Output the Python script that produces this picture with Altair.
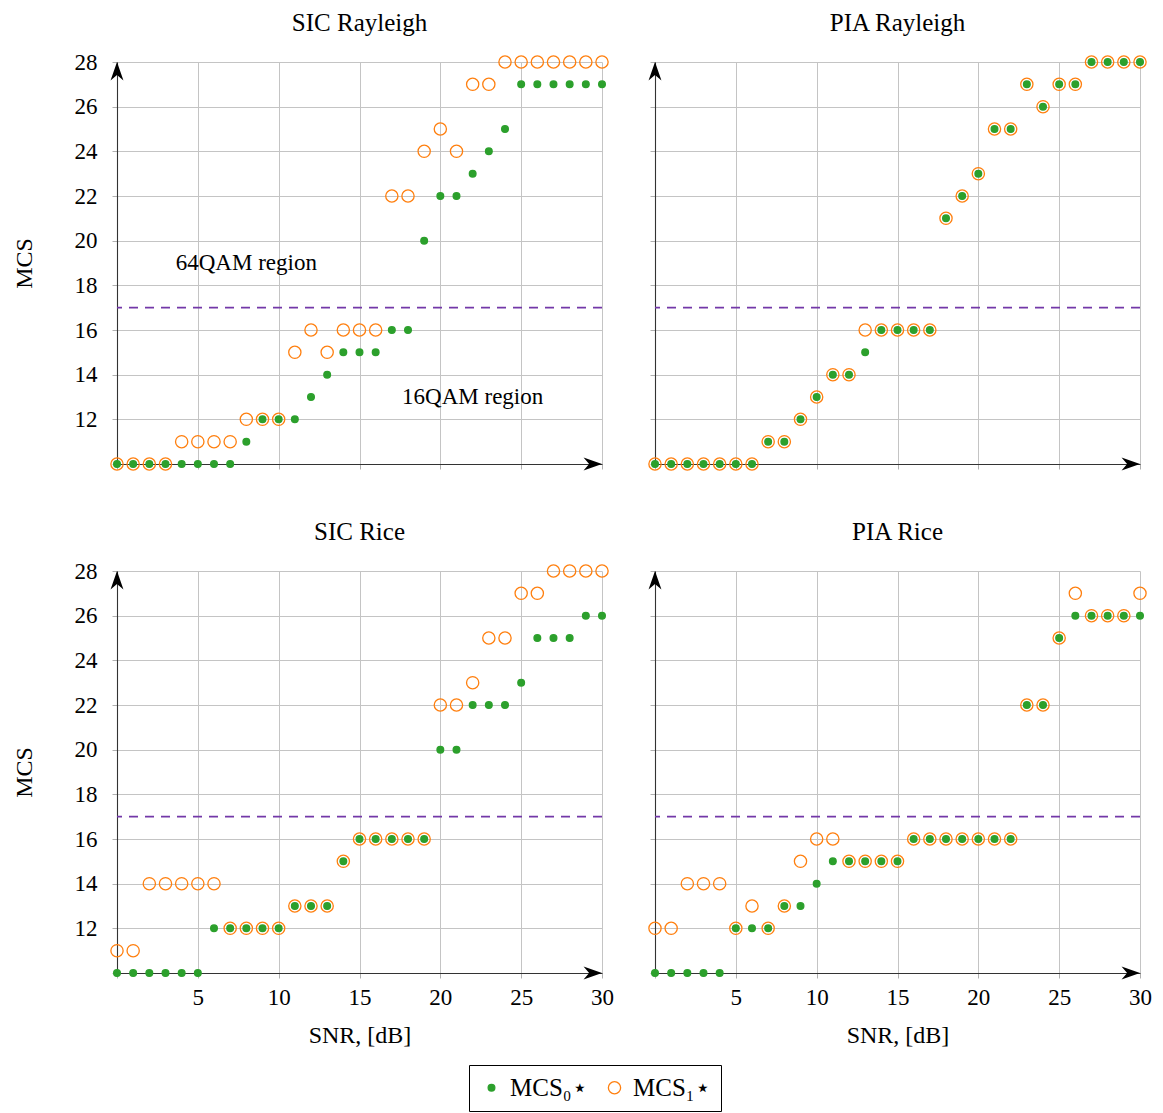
import altair as alt
import pandas as pd

# ---------------- data ----------------
snr = list(range(31))

sic_ray_0 = [10, 10, 10, 10, 10, 10, 10, 10, 11, 12, 12, 12, 13, 14, 15, 15, 15, 16, 16, 20, 22, 22, 23, 24, 25, 27, 27, 27, 27, 27, 27]
sic_ray_1 = [10, 10, 10, 10, 11, 11, 11, 11, 12, 12, 12, 15, 16, 15, 16, 16, 16, 22, 22, 24, 25, 24, 27, 27, 28, 28, 28, 28, 28, 28, 28]

pia_ray_0 = [10, 10, 10, 10, 10, 10, 10, 11, 11, 12, 13, 14, 14, 15, 16, 16, 16, 16, 21, 22, 23, 25, 25, 27, 26, 27, 27, 28, 28, 28, 28]
pia_ray_1 = [10, 10, 10, 10, 10, 10, 10, 11, 11, 12, 13, 14, 14, 16, 16, 16, 16, 16, 21, 22, 23, 25, 25, 27, 26, 27, 27, 28, 28, 28, 28]

sic_rice_0 = [10, 10, 10, 10, 10, 10, 12, 12, 12, 12, 12, 13, 13, 13, 15, 16, 16, 16, 16, 16, 20, 20, 22, 22, 22, 23, 25, 25, 25, 26, 26]
sic_rice_1 = [11, 11, 14, 14, 14, 14, 14, 12, 12, 12, 12, 13, 13, 13, 15, 16, 16, 16, 16, 16, 22, 22, 23, 25, 25, 27, 27, 28, 28, 28, 28]

pia_rice_0 = [10, 10, 10, 10, 10, 12, 12, 12, 13, 13, 14, 15, 15, 15, 15, 15, 16, 16, 16, 16, 16, 16, 16, 22, 22, 25, 26, 26, 26, 26, 26]
pia_rice_1 = [12, 12, 14, 14, 14, 12, 13, 12, 13, 15, 16, 16, 15, 15, 15, 15, 16, 16, 16, 16, 16, 16, 16, 22, 22, 25, 27, 26, 26, 26, 27]

panel_titles = ["SIC Rayleigh", "PIA Rayleigh", "SIC Rice", "PIA Rice"]
series_names = ["MCS\u2080\u22c6", "MCS\u2081\u22c6"]
threshold = [17]
x_ticks = [0, 5, 10, 15, 20, 25, 30]
y_ticks = [10, 12, 14, 16, 18, 20, 22, 24, 26, 28]
annot_x = [8, 22]
annot_y = [19, 13]
annot_text = ["64QAM region", "16QAM region"]

# ---------------- style ----------------
FONT = "'Liberation Serif', 'DejaVu Serif', serif"
GREEN = "#2ca02c"
ORANGE = "#ff7f0e"
PURPLE = "#7338a8"
W, H = 485, 402

xs = alt.Scale(domain=[0, 30], nice=False, zero=False)
ys = alt.Scale(domain=[10, 28], nice=False, zero=False)

legend = alt.Legend(
    title=None, orient="none", legendX=352, legendY=1003, direction="horizontal",
    strokeColor="black", padding=10, labelFont=FONT, labelFontSize=25,
    labelColor="black", columnPadding=14, symbolStrokeWidth=1.3, labelOffset=6,
)


def panel(title, v0, v1, show_x, show_y, annotate=False):
    df = pd.DataFrame({
        "SNR": snr + snr,
        "MCS": v0 + v1,
        "series": [series_names[0]] * len(snr) + [series_names[1]] * len(snr),
    })
    xaxis = alt.Axis(
        values=x_ticks, grid=True, labels=True, labelFlush=False,
        labelColor="black" if show_x else "transparent",
        labelExpr="datum.value == 0 ? '' : datum.label",
        title="SNR, [dB]" if show_x else None,
    )
    yaxis = alt.Axis(
        values=y_ticks, grid=True, labels=True, labelFlush=False,
        labelColor="black" if show_y else "transparent",
        labelPadding=15 if show_y else 13,
        labelExpr="datum.value == 10 ? '' : datum.label",
        title="MCS" if show_y else None,
    )
    pts = alt.Chart(df).mark_point(strokeWidth=1.3, opacity=1).encode(
        x=alt.X("SNR:Q", scale=xs, axis=xaxis),
        y=alt.Y("MCS:Q", scale=ys, axis=yaxis),
        stroke=alt.Stroke("series:N", scale=alt.Scale(domain=series_names, range=[GREEN, ORANGE]), legend=legend),
        fill=alt.Fill("series:N", scale=alt.Scale(domain=series_names, range=[GREEN, "transparent"]), legend=legend),
        size=alt.Size("series:N", scale=alt.Scale(domain=series_names, range=[45, 150]), legend=legend),
    )
    rule = alt.Chart(pd.DataFrame({"t": threshold})).mark_rule(
        color=PURPLE, strokeDash=[9, 7], strokeWidth=1.8
    ).encode(y=alt.Y("t:Q", scale=ys))
    arrow_r = alt.Chart(pd.DataFrame({"x": [x_ticks[-1]], "y": [y_ticks[0]]})).mark_point(
        shape="M0,0 L-2,-0.7 L-1.4,0 L-2,0.7 Z", filled=True, color="black", size=340, opacity=1
    ).encode(x=alt.X("x:Q", scale=xs), y=alt.Y("y:Q", scale=ys))
    arrow_u = alt.Chart(pd.DataFrame({"x": [x_ticks[0]], "y": [y_ticks[-1]]})).mark_point(
        shape="M0,0 L-0.7,2 L0,1.4 L0.7,2 Z", filled=True, color="black", size=340, opacity=1
    ).encode(x=alt.X("x:Q", scale=xs), y=alt.Y("y:Q", scale=ys))
    layers = [rule, pts, arrow_r, arrow_u]
    if annotate:
        txt = alt.Chart(pd.DataFrame({"x": annot_x, "y": annot_y, "t": annot_text})).mark_text(
            font=FONT, fontSize=23, color="black"
        ).encode(x=alt.X("x:Q", scale=xs), y=alt.Y("y:Q", scale=ys), text="t:N")
        layers.append(txt)
    return alt.layer(*layers).properties(
        width=W, height=H,
        title=alt.TitleParams(title, font=FONT, fontSize=25, fontWeight="normal", color="black", offset=15),
    )


p1 = panel(panel_titles[0], sic_ray_0, sic_ray_1, False, True, annotate=True)
p2 = panel(panel_titles[1], pia_ray_0, pia_ray_1, False, False)
p3 = panel(panel_titles[2], sic_rice_0, sic_rice_1, True, True)
p4 = panel(panel_titles[3], pia_rice_0, pia_rice_1, True, False)

chart = alt.vconcat(
    alt.hconcat(p1, p2, spacing=0),
    alt.hconcat(p3, p4, spacing=0),
    spacing=20,
).properties(
    padding={"left": 12, "top": 11, "right": 5, "bottom": 5}
).configure_view(stroke=None).configure_axis(
    labelFont=FONT, labelFontSize=23, labelColor="black",
    titleFont=FONT, titleFontSize=24, titleFontWeight="normal", titleColor="black",
    gridColor="#c4c4c4", gridWidth=1, domainColor="#333333", domainWidth=1.1,
    tickColor="#b0b0b0", tickSize=5,
).configure_axisX(labelPadding=8, titlePadding=14).configure_axisY(titlePadding=38)

chart.save("out.html", embed_options={"renderer": "svg", "actions": False})
